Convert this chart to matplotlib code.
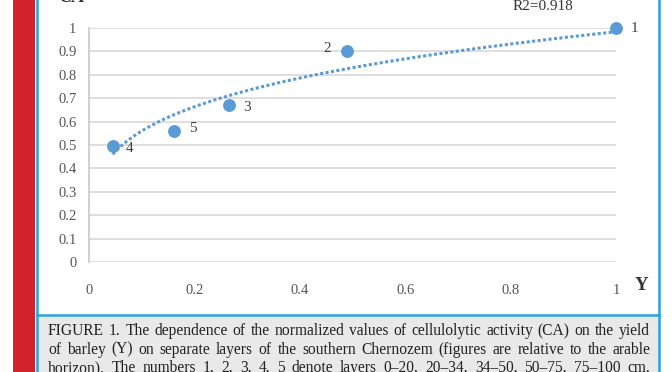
import numpy as np
import matplotlib
matplotlib.use("Agg")
import matplotlib.pyplot as plt
from matplotlib.patches import Rectangle

# data
yield_y = [1.0, 0.49, 0.266, 0.045, 0.161]
ca = [1.0, 0.90, 0.67, 0.496, 0.56]
point_labels = ["1", "2", "3", "4", "5"]
label_offsets = [(18, 0), (-20, 3), (18, -2), (17, -3), (19, 2)]
x_ticks = [0, 0.2, 0.4, 0.6, 0.8, 1]
y_ticks = [0, 0.1, 0.2, 0.3, 0.4, 0.5, 0.6, 0.7, 0.8, 0.9, 1]
r2_text = "R2=0.918"
caption = [
    "FIGURE 1. The dependence of the normalized values of cellulolytic activity (CA) on the yield",
    "of barley (Y) on separate layers of the southern Chernozem (figures are relative to the arable",
    "horizon). The numbers 1, 2, 3, 4, 5 denote layers 0\u201320, 20\u201334, 34\u201350, 50\u201375, 75\u2013100 cm.",
]

W, H = 672, 372
blue = "#5b9bd5"
frame_blue = "#27a4dd"
serif = ["Liberation Serif", "DejaVu Serif"]

fig = plt.figure(figsize=(W / 100, H / 100), dpi=100)

def px(x, y):
    # pixel coords (top-left origin) -> figure fraction
    return x / W, 1 - y / H

# page decorations: red bar, blue frame, caption box
fig.patches.append(Rectangle(px(13, 372), 22 / W, 1, transform=fig.transFigure,
                             facecolor="#d2232a", edgecolor="none", zorder=0))
fig.patches.append(Rectangle(px(37, 372), (659 - 37) / W, (372 - 315) / H,
                             transform=fig.transFigure, facecolor="#e9e9e9",
                             edgecolor="none", zorder=0))
for (x0, y0, x1, y1) in [(37, -5, 37, 372), (659, -5, 659, 372), (37, 315, 659, 315)]:
    a, b = px(x0, y0)
    c, d = px(x1, y1)
    fig.add_artist(plt.Line2D([a, c], [b, d], color=frame_blue, lw=1.8,
                              transform=fig.transFigure))

l, b0 = px(89, 262)
r, t = px(616, 28)
ax = fig.add_axes([l, b0, r - l, t - b0])
ax.set_xlim(0, 1)
ax.set_ylim(0, 1)
for s in ["top", "right", "bottom"]:
    ax.spines[s].set_visible(False)
ax.spines["left"].set_color("#c8c8c8")
ax.spines["left"].set_linewidth(1.2)
ax.set_yticks(y_ticks)
ax.set_yticklabels([f"{v:g}" for v in y_ticks])
ax.set_xticks(x_ticks)
ax.set_xticklabels([f"{v:g}" for v in x_ticks])
ax.tick_params(length=0, labelsize=10.5, labelcolor="#555555", pad=9)
ax.tick_params(axis="x", pad=16)
for lab in ax.get_xticklabels() + ax.get_yticklabels():
    lab.set_family(serif)
ax.yaxis.grid(True, color="#d9d9d9", lw=1.2)
ax.set_axisbelow(True)

# power trendline fitted from the points
k, lnc = np.polyfit(np.log(yield_y), np.log(ca), 1)
xs = np.linspace(min(yield_y), 1, 200)
ax.plot(xs, np.exp(lnc) * xs ** k, ls=(0, (1, 0.8)), lw=2.2, color=blue, clip_on=False)
ax.scatter(yield_y, ca, s=68, color=blue, zorder=3, clip_on=False)
for xv, yv, lab, off in zip(yield_y, ca, point_labels, label_offsets):
    ax.annotate(lab, (xv, yv), xytext=off, textcoords="offset pixels",
                ha="center", va="center", fontsize=11, color="#404040", family=serif)

fig.text(*px(543, 6), r2_text, ha="center", va="center", fontsize=11,
         color="#333333", family=serif)
fig.text(*px(71, -2), "CA", ha="center", va="center", fontsize=13,
         color="#333333", family=serif, fontweight="bold")
fig.text(*px(641, 286), "Y", ha="center", va="center", fontsize=13.5,
         color="#333333", family=serif, fontweight="bold")

# justified caption
renderer = fig.canvas.get_renderer()
left_px, right_px = 48, 650
line_y = [331, 349.5, 368]
for line, yy in zip(caption, line_y):
    words = line.split(" ")
    arts = [fig.text(0, px(0, yy)[1], w, ha="left", va="center", fontsize=11.2,
                     color="#222222", family=serif) for w in words]
    widths = [a.get_window_extent(renderer).width for a in arts]
    gap = (right_px - left_px - sum(widths)) / (len(words) - 1)
    x = left_px
    for a, w in zip(arts, widths):
        a.set_x(x / W)
        x += w + gap

fig.savefig("out.png", dpi=100)
